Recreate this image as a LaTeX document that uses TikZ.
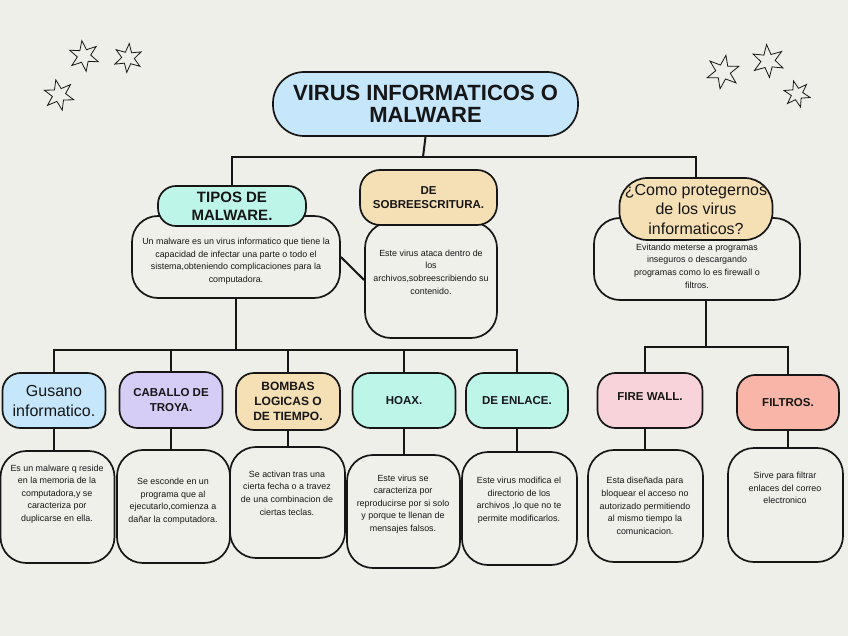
\documentclass[tikz,border=0pt]{standalone}
\usepackage{fontspec}
\setmainfont{Liberation Sans}
\usetikzlibrary{shapes.geometric}
\definecolor{bg}{HTML}{EFEFEA}
\definecolor{lc}{HTML}{161616}
\definecolor{cblue}{HTML}{C6E6FB}
\definecolor{cmint}{HTML}{BDF5E8}
\definecolor{cwheat}{HTML}{F5DFB5}
\definecolor{clav}{HTML}{D6CDF6}
\definecolor{cpink}{HTML}{F9D3DA}
\definecolor{csalmon}{HTML}{F8B5A8}
\definecolor{cdesc}{HTML}{F0F0EB}
\newcommand{\fs}[2]{\fontsize{#1}{#2}\selectfont}
\tikzset{
  box/.style={draw=lc, line width=1.7pt, inner sep=0pt, align=center, text=lc},
  hdr/.style={box, rounded corners=18pt},
  dbox/.style={box, fill=cdesc, rounded corners=26pt},
  dtext/.style={align=center, text=lc, inner sep=0pt, font=\fs{8.9}{12.6}},
  conn/.style={draw=lc, line width=2pt},
  starx/.style={star, star points=6, star point ratio=2.3, draw=lc, line width=0.8pt, fill=bg, inner sep=0pt}
}
\begin{document}
\begin{tikzpicture}[x=1pt,y=-1pt]
\fill[bg] (0,0) rectangle (848,636);
\useasboundingbox (0,0) rectangle (848,636);

% stars
\node[starx, minimum size=31pt, rotate=8] (s1) at (84,56) {};
\node[starx, minimum size=29pt, rotate=-5] (s2) at (128,58) {};
\node[starx, minimum size=31pt, rotate=12] (s3) at (59,95) {};
\node[starx, minimum size=34pt, rotate=-10] (s4) at (723,72) {};
\node[starx, minimum size=33pt, rotate=5] (s5) at (768,61) {};
\node[starx, minimum size=27pt, rotate=15] (s6) at (797,94) {};

% description boxes (behind headers)
\node[dbox, minimum width=208pt, minimum height=82pt] (tiposD) at (236,257) {};
\node[dbox, minimum width=132pt, minimum height=116pt] (sobD) at (431,280) {};
\node[dbox, minimum width=206pt, minimum height=82pt] (comoD) at (697,259) {};
\node[dbox, minimum width=114pt, minimum height=112pt] (gusD) at (57.5,507) {};
\node[dbox, minimum width=113pt, minimum height=113pt] (cabD) at (173.5,506.5) {};
\node[dbox, minimum width=115pt, minimum height=111pt] (bomD) at (287.5,502.5) {};
\node[dbox, minimum width=113pt, minimum height=113pt] (hoaD) at (403.5,511.5) {};
\node[dbox, minimum width=115pt, minimum height=113pt] (enlD) at (519.5,508.5) {};
\node[dbox, minimum width=115pt, minimum height=112pt] (firD) at (645.5,506) {};
\node[dbox, minimum width=115pt, minimum height=114pt] (filD) at (785.5,505) {};

% headers
\node[hdr, fill=cblue, rounded corners=31pt, minimum width=305pt, minimum height=64pt, font=\bfseries\fs{22}{22}] (root) at (425.5,104) {VIRUS INFORMATICOS O\\MALWARE};
\node[hdr, fill=cmint, minimum width=148pt, minimum height=40pt, font=\bfseries\fs{15}{18}] (tiposH) at (232,206) {TIPOS DE\\MALWARE.};
\node[hdr, fill=cwheat, rounded corners=20pt, minimum width=137pt, minimum height=55pt, font=\bfseries\fs{11.5}{14}] (sobH) at (428.5,197.5) {DE\\SOBREESCRITURA.};
\node[hdr, fill=cwheat, rounded corners=28pt, minimum width=153pt, minimum height=62pt, font=\fs{16}{19.5}] (comoH) at (696,209) {¿Como protegernos\\de los virus\\informaticos?};
\node[hdr, fill=cblue, minimum width=103pt, minimum height=55pt, font=\fs{16}{20}] (gusH) at (54,400.5) {Gusano\\informatico.};
\node[hdr, fill=clav, minimum width=103pt, minimum height=56pt, font=\bfseries\fs{11.5}{15}] (cabH) at (171,400) {CABALLO DE\\TROYA.};
\node[hdr, fill=cwheat, minimum width=104pt, minimum height=57pt, font=\bfseries\fs{12}{15}] (bomH) at (288,401.5) {BOMBAS\\LOGICAS O\\DE TIEMPO.};
\node[hdr, fill=cmint, minimum width=103pt, minimum height=55pt, font=\bfseries\fs{11.5}{14}] (hoaH) at (404,400.5) {HOAX.};
\node[hdr, fill=cmint, minimum width=102pt, minimum height=55pt, font=\bfseries\fs{11.5}{14}] (enlH) at (517,400.5) {DE ENLACE.};
\node[hdr, fill=cpink, minimum width=105pt, minimum height=55pt, font=\bfseries\fs{11.5}{14}] (firH) at (650,400.5) {\raisebox{7pt}{FIRE WALL.}};
\node[hdr, fill=csalmon, minimum width=102pt, minimum height=55pt, font=\bfseries\fs{11.5}{14}] (filH) at (788,402.5) {FILTROS.};

% connectors
\coordinate (j0) at (423,157);
\coordinate (j1) at (236,350);
\coordinate (j2) at (706,347);
\coordinate (fx) at (645,347);
\draw[conn] (root.south) -- (j0);
\draw[conn] (tiposH.north) -- (tiposH.north |- j0) -- (comoH.north |- j0) -- (comoH.north);
\draw[conn] (tiposD.south) -- (j1);
\draw[conn] (gusH.north) -- (gusH.north |- j1) -- (enlH.north |- j1) -- (enlH.north);
\draw[conn] (cabH.north |- j1) -- (cabH.north);
\draw[conn] (bomH.north |- j1) -- (bomH.north);
\draw[conn] (hoaH.north |- j1) -- (hoaH.north);
\draw[conn] (comoD.south -| j2) -- (j2);
\draw[conn] (firH.north -| fx) -- (fx) -- (filH.north |- fx) -- (filH.north);
\draw[conn] (tiposD.east) -- (sobD.west);

% header-description links
\draw[conn] (gusH.south) -- (gusH.south |- gusD.north);
\draw[conn] (cabH.south) -- (cabH.south |- cabD.north);
\draw[conn] (bomH.south) -- (bomH.south |- bomD.north);
\draw[conn] (hoaH.south) -- (hoaH.south |- hoaD.north);
\draw[conn] (enlH.south) -- (enlH.south |- enlD.north);
\draw[conn] (firH.south -| fx) -- (fx |- firD.north);
\draw[conn] (filH.south) -- (filH.south |- filD.north);

% description texts
\node[dtext] (tiposT) at (236,261) {Un malware es un virus informatico que tiene la\\capacidad de infectar una parte o todo el\\sistema,obteniendo complicaciones para la\\computadora.};
\node[dtext] (sobT) at (431,272) {Este virus ataca dentro de\\los\\archivos,sobreescribiendo su\\contenido.};
\node[dtext] (comoT) at (697,266) {Evitando meterse a programas\\inseguros o descargando\\programas como lo es firewall o\\filtros.};
\node[dtext] (gusT) at (57,494) {Es un malware q reside\\en la memoria de la\\computadora,y se\\caracteriza por\\duplicarse en ella.};
\node[dtext] (cabT) at (173,501) {Se esconde en un\\programa que al\\ejecutarlo,comienza a\\dañar la computadora.};
\node[dtext] (bomT) at (287,493) {Se activan tras una\\cierta fecha o a travez\\de una combinacion de\\ciertas teclas.};
\node[dtext] (hoaT) at (403,504) {Este virus se\\caracteriza por\\reproducirse por si solo\\y porque te llenan de\\mensajes falsos.};
\node[dtext] (enlT) at (519,500) {Este virus modifica el\\directorio de los\\archivos ,lo que no te\\permite modificarlos.};
\node[dtext] (firT) at (645,506) {Esta diseñada para\\bloquear el acceso no\\autorizado permitiendo\\al mismo tiempo la\\comunicacion.};
\node[dtext] (filT) at (785,488) {Sirve para filtrar\\enlaces del correo\\electronico};
\end{tikzpicture}
\end{document}
